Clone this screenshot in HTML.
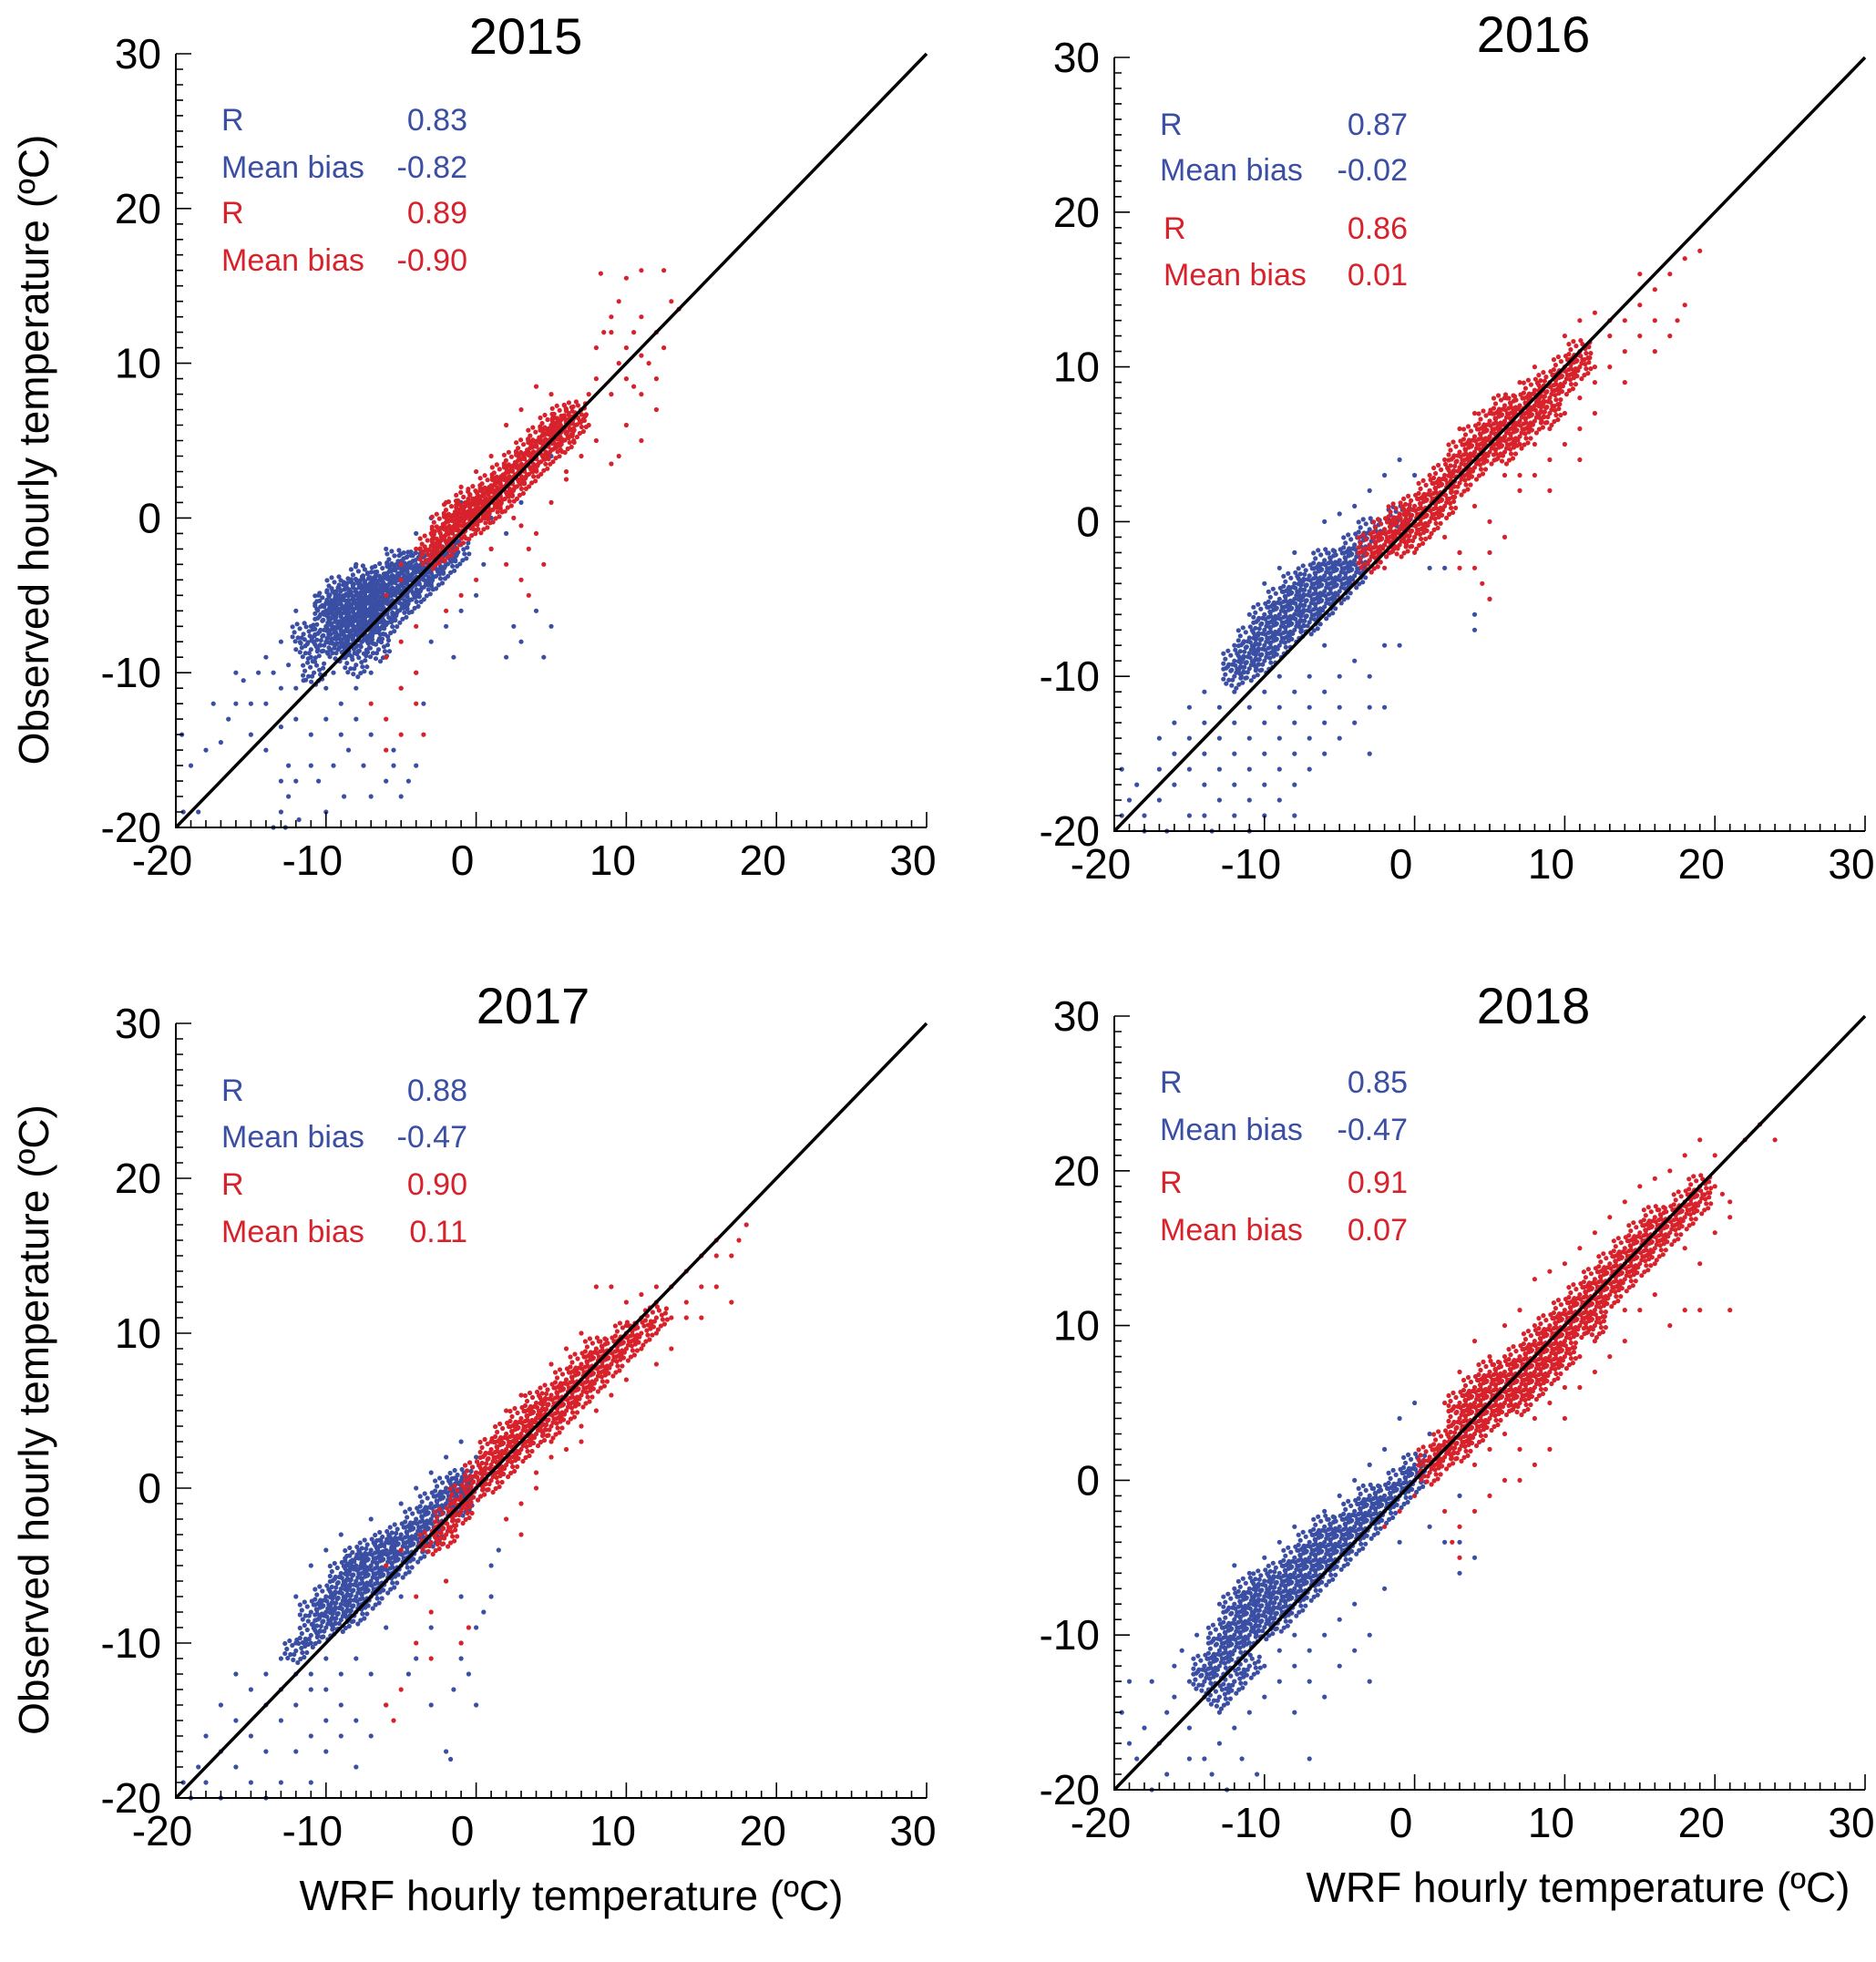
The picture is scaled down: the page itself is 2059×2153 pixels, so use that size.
<!DOCTYPE html>
<html><head><meta charset="utf-8"><style>
html,body{margin:0;padding:0;background:#fff}
svg{display:block;font-family:"Liberation Sans",Arial,sans-serif}
</style></head><body>
<svg id="fig" width="2059" height="2153" viewBox="0 0 2059 2153" xmlns="http://www.w3.org/2000/svg"></svg>
<script>
// ---------- data (degrees C): flat [x,y,...] arrays ----------
const titles = ["2015","2016","2017","2018"];
const statLabels = ["R","Mean bias","R","Mean bias"];
const stats2015 = ["0.83","-0.82","0.89","-0.90"];
const stats2016 = ["0.87","-0.02","0.86","0.01"];
const stats2017 = ["0.88","-0.47","0.90","0.11"];
const stats2018 = ["0.85","-0.47","0.91","0.07"];
const tickValues = [-20,-10,0,10,20,30];

const blueDense2015=[-10,-8,-10,-7,-10,-6,-10,-5.5,-9.2,-8.5,-9.2,-7.6,-9.2,-6.8,-9.2,-6,-9.2,-5.2,-9.2,-4.5,-8.4,-8.2,-8.4,-7.4,-8.4,-6.5,-8.4,-5.7,-8.4,-4.8,-7.6,-8,-7.6,-7.1,-7.6,-6.2,-7.6,-5.4,-7.6,-4.6,-7.6,-3.8,-6.8,-7.4,-6.8,-6.6,-6.8,-5.8,-6.8,-5,-6.8,-4.2,-6,-6.9,-6,-6,-6,-5.2,-6,-4.4,-6,-3.6,-5.2,-6,-5.2,-5.2,-5.2,-4.4,-5.2,-3.6,-5.2,-2.8,-4.4,-5.3,-4.4,-4.5,-4.4,-3.7,-4.4,-2.9,-3.6,-4.5,-3.6,-3.7,-3.6,-2.9,-2.8,-3.8,-2.8,-3,-2,-3,-2,-2.2,-1.2,-2.2,-11,-8.5,-11.5,-7.5,-10.8,-10,-8,-9.5,-6.5,-8.5];
const blueScatter2015=[-14,-9,-13.5,-10,-13,-8,-12.5,-9.5,-12,-8.5,-11.5,-10.5,-11,-7,-11,-9,-12,-11,-13,-11,-14.5,-10,-15,-12,-16,-12,-17.5,-12,-18,-15,-19,-16,-19.6,-14,-17,-14.5,-16.5,-13,-15,-14,-14,-15,-13,-17,-13,-19,-12.5,-18,-12,-17,-11.8,-19.5,-12.5,-16,-11,-16,-10.5,-17,-11,-14,-10,-13,-9,-14,-9,-12,-8.5,-15,-8,-13,-7.5,-16,-7,-14,-7,-18,-6,-17,-5.5,-16,-5,-18,-5.5,-15,-4.5,-17,-4,-16,-3.5,-12,-4,-10,-5,-11,-6,-9,-7,-10,-8,-11,-9.5,-10,-10,-11,-3,-8,-2,-7,-1,-6,0,-5,2,-9,2.5,-7,3,-8,4,-6,5,-7,4.5,-9,-1.5,-9,-12,-6,-10.5,-5,-8,-3,-6,-2,-4,-1,-3,0,-1,1,1,-2,0.5,-3,2,-1,-15.5,-10.5,-14,-12,-16,-10,-13,-13.5,-12,-13,-9.5,-16,-8.8,-18,-10,-19,-13.5,-20,-12.7,-20,-18.5,-19,-19.5,-19,1,0,3,1,5,4];
const redDense2015=[-3,-2.5,-3,-1.8,-2.2,-2,-2.2,-1.2,-2.2,-0.4,-1.4,-1.2,-1.4,-0.4,-1.4,0.4,-0.6,-0.6,-0.6,0.2,-0.6,1,0.2,-0.2,0.2,0.6,0.2,1.4,1,0.5,1,1.3,1,2.1,1.8,1.2,1.8,2,1.8,2.8,2.6,2,2.6,2.8,2.6,3.6,3.4,2.8,3.4,3.6,3.4,4.4,4.2,3.6,4.2,4.4,4.2,5.2,5,4.4,5,5.2,5,6,5.8,5,5.8,5.8,5.8,6.6,6.6,6,6.6,6.8];
const redScatter2015=[7,7,7.5,8,8,9,8,11,8.5,12,9,13,9.5,14,10,15.5,8.3,15.8,9,12,10,11,10.5,12,11,13,12,12,13,14,12.5,11,11.5,10,10,9,9,8,10.5,8.5,11,8,12,9,12,7,11,5,9.5,4,9,3.5,8,5,7,4,6,3,5,1,4,-1,3.5,-2,3,-4,3.5,-5,2,-3,1,-2,4.5,-3,6,7,5,8,4,8.5,3,7,2,6,1,4,0,3,-1,2,-2,1,-3,-1,-4,-2,-5,-3,-5,-4,-6,-5,-4,-7,-5,-8,-6,-9,-4,-10,-5,-11,-4,-12,-5,-14,-6,-15,-3.5,-14,-6,-13,-7,-12,-2,-6,-1,-5,0,-4,13.5,13.5,12.5,16,11,16,6.5,5,7.5,6,9.5,10,10,6,11,10.5,3,-0.5,2.5,0,6,2.5];

const blueDense2016=[-12,-10,-12,-9,-11,-9.5,-11,-8.5,-11,-7.5,-10,-9,-10,-8,-10,-7,-10,-6,-9,-8,-9,-7,-9,-6,-9,-5,-8,-7,-8,-6,-8,-5,-8,-4,-7,-6.5,-7,-5.5,-7,-4.5,-7,-3.5,-6,-5.5,-6,-4.5,-6,-3.5,-6,-2.5,-5,-4.5,-5,-3.5,-5,-2.5,-4,-3.5,-4,-2.5,-4,-1.5,-3,-2.5,-3,-1.5,-3,-0.5,-2,-1.5,-2,-0.5,-1,-0.5,-1,0.3];
const blueScatter2016=[-19,-18,-19.5,-16,-18.5,-17,-18,-19,-17,-18,-17,-16,-16,-15,-16,-17,-15,-14,-15,-16,-15,-19,-14,-13,-14,-15,-14,-17,-14,-19,-13.5,-20,-13,-12,-13,-14,-13,-16,-13,-18,-12,-11,-12,-13,-12,-15,-12,-17,-12,-19,-11,-12,-11,-14,-11,-16,-11,-18,-11,-20,-10,-11,-10,-13,-10,-15,-10,-17,-10,-19,-9,-10,-9,-12,-9,-14,-9,-16,-9,-18,-8,-11,-8,-13,-8,-15,-8,-17,-8,-19,-7,-10,-7,-12,-7,-14,-7,-16,-6,-11,-6,-13,-6,-15,-5,-12,-5,-14,-4,-13,-3,-12,-3,-15,-2,-8,-1,-8,-4,-9,-5,-10,-6,-8,-3,-10,-2,-12,-14,-11,-15,-12,-16,-13,-17,-14,-12,-8,-11,-6,-10,-4,-9,-3,-8,-2,-6,0,-5,0.5,-4,1,-3,2,-2,3,-1,4,0,3,1,2,4,-6,4,-7,3,-2,2,-3,5,-5,1,-3,-18,-20,-16.5,-20,-19.5,-19];
const redDense2016=[-3,-2.5,-3,-1.5,-2,-1.5,-2,-0.5,-1,-0.5,-1,0.5,-1,-1.5,0,0,0,1,0,-1,1,1,1,2,1,0,2,2,2,3,2,1,3,2.5,3,3.5,3,4.5,4,3.5,4,4.5,4,5.5,5,4.5,5,5.5,5,6.5,6,5.5,6,6.5,6,7.5,6,4.5,7,6.5,7,7.5,7,5.5,8,7.5,8,8.5,8,6.5,9,8,9,9,9,7,10,9,10,10,11,10,11,11];
const redScatter2016=[4,1,5,0,5,-2,6,-1,7,2,7,3,8,3,8,5,9,4,9,6,10,5,10,7,11,6,11,8,12,9,12,7,13,10,13,12,14,11,14,13,15,14,15,12,16,15,17,16,17,12,16,11,18,14,18,17,19,17.5,15,16,13,13,12,13.5,11,13,10,12,8,10,7,9,6,8,5,7,4,7,3,6,2,4,1,3,2,-1,3,-2,4,-3,4.5,-4,5,-5,3,-3,0,-2,1,-1,-4,-4,-5,-5,-2,-3,6,3,9,2,7,5,11,4,12,10,14,9,16,13,17.5,13];

const blueDense2017=[-10,-9,-10,-8,-10,-7,-9,-8.5,-9,-7.5,-9,-6.5,-9,-5.5,-8,-8,-8,-7,-8,-6,-8,-5,-8,-4.5,-7,-7,-7,-6,-7,-5,-7,-4,-6,-6,-6,-5,-6,-4,-6,-3.5,-5,-5,-5,-4,-5,-3,-4,-4,-4,-3,-4,-2,-3,-3,-3,-2,-3,-1,-2,-2,-2,-1,-2,0,-1,-1,-1,0,-1,0.5,0,0,0,1,-11,-9.5,-11,-8,-12,-10.5];
const blueScatter2017=[-19.5,-19,-19,-20,-18.5,-18,-18,-19,-17,-17,-17,-14,-16,-12,-16,-15,-16,-18,-15,-13,-15,-16,-15,-19,-14,-12,-14,-14,-14,-17,-13,-11,-13,-13,-13,-15,-13,-19,-12,-10,-12,-12,-12,-14,-12,-17,-11,-10,-11,-12,-11,-13,-11,-16,-11,-19,-10,-11,-10,-13,-10,-15,-10,-17,-9,-12,-9,-14,-9,-16,-8,-11,-8,-15,-8,-18,-7,-12,-7,-16,-6,-14,-12,-7,-11,-5,-10,-4,-9,-3,-7,-2,-5,-1,-4,0,-3,1,-2,2,-1,3,0,2,1,1,-2,-6,-1,-7,-1,-10,-1,-11,-1.5,-13,-2,-17,-1.7,-17.5,0,-14,1,-5,1.5,-4,1,-7,0,-9,0.5,-8,-0.5,-12,-3,-9,-4,-11,-4.5,-12,-3,-14,-18,-16,-17,-20,-14,-20,-5,-7,-6,-9];
const redDense2017=[0,0,0,1,1,0.5,1,1.5,1,2.5,2,1.5,2,2.5,2,3.5,3,2.5,3,3.5,3,4.5,4,3.5,4,4.5,4,5.5,5,4,5,5,5,6,6,5,6,6,6,7,7,6,7,7,7,8,8,7,8,8,8,9,9,8,9,9,10,9,10,10,-1,-0.5,-1,-1.5,-2,-2,-2,-3,-3,-3.5,11,10,12,11];
const redScatter2017=[11,9,11,11,12,10,12,12,13,11,13,13,14,12,14,14,15,13,15,15,16,15,16,16,17,15,17,12,18,17,17.5,16,16,13,14,11,13,9,12,8,10,7,9,6,8,5,7,3,6,2.5,5,2,4,1,3,-1,2,-2,3,-3,4,0,5,3,7,4,6,9,5,8,7,10,8,13,9,13,10,12,12,13,3,6,2,5,1,3,-2,-6,-3,-8,-4,-10,-3,-11,-5,-13,-6,-14,-5.5,-15,-1,-10,-0.5,-9,-4,-7,-5,-4,-6,-5,10,10.5,11,12.5,15,11];

const blueDense2018=[-14,-13,-14,-12,-13,-12,-13,-11,-13,-10,-12,-11,-12,-10,-12,-9,-12,-8,-11,-10,-11,-9,-11,-8,-11,-7,-10,-9.5,-10,-8.5,-10,-7.5,-10,-6.5,-9,-9,-9,-8,-9,-7,-9,-6,-8,-8,-8,-7,-8,-6,-8,-5,-7,-7,-7,-6,-7,-5,-7,-4,-6,-6,-6,-5,-6,-4,-6,-3,-5,-5,-5,-4,-5,-3,-4,-4,-4,-3,-4,-2,-3,-3,-3,-2,-3,-1,-2,-2,-2,-1,-1,-1,-1,0,0,0,0,1,-13,-14,-12,-13,-11,-12];
const blueScatter2018=[-19.5,-15,-19,-17,-18.5,-18,-18,-16,-17.5,-13,-17,-17,-16.5,-15,-16,-12,-16,-14,-15.5,-11,-15,-13,-15,-16,-14.5,-10,-14,-14,-14,-18,-13.5,-19,-13,-9,-13,-15,-13,-17,-12.5,-20,-12,-7,-12,-13,-12,-16,-11.5,-18,-11,-6,-11,-12,-11,-15,-10.5,-19,-10,-5,-10,-12,-10,-14,-9,-4,-9,-11,-9,-13,-8,-3,-8,-10,-8,-12,-7,-11,-7,-13,-6,-10,-6,-14,-5,-9,-5,-12,-4,-8,-4,-11,-3,-10,-3,-13,-8,-15,-7,-18,-6,-2,-5,-1,-4,0,-3,1,-2,2,-1,4,0,5,1,3,2,2,3,-1,3,-4,4,-5,3,-6,1,-3,2,-4,-1,-4,-2,-7,-15,-18,-16.5,-19,-17.5,-20,-19,-13,-11,-10.5,-14,-12,-13,-8,-12,-5.5];
const redDense2018=[1,0.5,1,1.5,2,1.5,2,2.5,3,2,3,3,3,4,3,5,4,3,4,4,4,5,4,6,5,4,5,5,5,6,5,7,6,5,6,6,6,7,7,6,7,7,7,8,7,5,8,7,8,8,8,9,8,6,9,8,9,9,9,10,9,7,10,9,10,10,10,11,10,8,11,10,11,11,11,12,12,11,12,12,12,13,12,10,13,12,13,13,13,14,14,13,14,14,14,15,15,14,15,15,15,16,16,15,16,16,16,17,17,16,17,17,18,17,18,18,19,18,19,19];
const redScatter2018=[3,7,4,9,5,8,6,10,7,11,8,13,9,13.5,10,14,11,15,12,16,13,17,14,18,15,19,16,19.5,17,20,18,21,19,22,20,21,20,19,21,18,21,17,20,16,19,14,19,11,21,11,18,11,17,10,16,12,15,11,14,9,13,8,12,7,11,6,10,4,9,2,8,1,7,0,6,0,5,-1,4,-2,3,-3,2,-2,0,-1,-1,-2,-2,-3,6,3,7,2,8,4,9,5,10,6,11,8,5,2,4,1,22,22,23,23,24,22,20.5,18.5,18,15,16,14,14,11,12,9,8,10,6,8,2,5,3,-5,2.5,-4];

// ---------- rendering ----------
const NS="http://www.w3.org/2000/svg";
const svg=document.getElementById('fig');
const BLUE="#3a4ea3", RED="#d8222b";
// fixed speckle texture drawn around each dense-region point (styling, px)
const SPECKLE=[[0,0],[7,2],[-6,4],[3,-8],[-4,-6],[10,-5],[-10,-2],[5,9],[-3,10],[9,7],[-9,8],[1,-12],[12,2],[-12,-8],[6,-3],[-2,4],[-7,-11],[11,-10],[-12,3],[2,13]];
function mk(tag,attrs,parent){const e=document.createElementNS(NS,tag);for(const k in attrs)e.setAttribute(k,attrs[k]);(parent||svg).appendChild(e);return e;}

const panels=[
 {L:193,R:1017,T:59,B:908,title:titles[0],tx:577,ty:59,stats:stats2015,sx:243,vx:513,by:[143,195,245,297],rx:243,bd:blueDense2015,bs:blueScatter2015,rd:redDense2015,rs:redScatter2015,ylab:true,xlab:false},
 {L:1223,R:2047,T:63,B:912,title:titles[1],tx:1683,ty:57,stats:stats2016,sx:1273,vx:1545,by:[148,198,262,313],rx:1277,bd:blueDense2016,bs:blueScatter2016,rd:redDense2016,rs:redScatter2016,ylab:false,xlab:false},
 {L:193,R:1017,T:1123,B:1973,title:titles[2],tx:585,ty:1123,stats:stats2017,sx:243,vx:513,by:[1208,1259,1311,1363],rx:243,bd:blueDense2017,bs:blueScatter2017,rd:redDense2017,rs:redScatter2017,ylab:true,xlab:true,xlx:627},
 {L:1223,R:2047,T:1115,B:1964,title:titles[3],tx:1683,ty:1123,stats:stats2018,sx:1273,vx:1545,by:[1199,1251,1309,1361],rx:1273,bd:blueDense2018,bs:blueScatter2018,rd:redDense2018,rs:redScatter2018,ylab:false,xlab:true,xlx:1732}
];

panels.forEach((p,pi)=>{
  const g=mk('g',{});
  
  
  const xs=v=>p.L+(v+20)/50*(p.R-p.L);
  const ys=v=>p.B-(v+20)/50*(p.B-p.T);
  function draw(arr,color,dense,name){
    const pg=mk('g',{fill:color},g);
    
    
    for(let i=0;i<arr.length;i+=2){
      const cx=xs(arr[i]), cy=ys(arr[i+1]);
      if(dense){
        SPECKLE.forEach(o=>{
          const X=cx+o[0], Y=cy+o[1];
          if(X>=p.L && Y<=p.B) mk('circle',{cx:X.toFixed(1),cy:Y.toFixed(1),r:2.6},pg);
        });
      } else {
        mk('circle',{cx:cx.toFixed(1),cy:cy.toFixed(1),r:2.6},pg);
      }
    }
  }
  draw(p.bs,BLUE,false,'blue-points-scatter');
  draw(p.bd,BLUE,true,'blue-points-dense');
  draw(p.rs,RED,false,'red-points-scatter');
  draw(p.rd,RED,true,'red-points-dense');
  const ln=mk('line',{x1:xs(-20),y1:ys(-20),x2:xs(30),y2:ys(30),stroke:'#000','stroke-width':3.5},g);
  
  
  const ax=mk('path',{d:`M${p.L},${p.T}V${p.B}H${p.R}`,fill:'none',stroke:'#000','stroke-width':2},g);
  
  
  let d='';
  for(let v=-20;v<=30;v++){
    const major=v%10===0, len=major?17:8;
    d+=`M${p.L},${ys(v).toFixed(1)}h${len}`;
    d+=`M${xs(v).toFixed(1)},${p.B}v${-len}`;
  }
  const tk=mk('path',{d:d,stroke:'#000','stroke-width':1.6,fill:'none'},g);
  
  
  tickValues.forEach(v=>{
    const ty=mk('text',{x:p.L-16,y:ys(v)+16,'font-size':46,'text-anchor':'end'},g);
    ty.textContent=v;
    
    
    const tx=mk('text',{x:xs(v)-15,y:p.B+52,'font-size':46,'text-anchor':'middle'},g);
    tx.textContent=v;
    
    
  });
  const tt=mk('text',{x:p.tx,y:p.ty,'font-size':56,'text-anchor':'middle'},g);
  tt.textContent=p.title;
  
  
  statLabels.forEach((lab,i)=>{
    const col=i<2?BLUE:RED;
    const lx=i<2?p.sx:p.rx;
    const a=mk('text',{x:lx,y:p.by[i],'font-size':34,fill:col},g);
    a.textContent=lab;
    
    
    const b=mk('text',{x:p.vx,y:p.by[i],'font-size':34,fill:col,'text-anchor':'end'},g);
    b.textContent=p.stats[i];
    
    
  });
  if(p.ylab){
    const cy=(p.T+p.B)/2+10;
    const yl=mk('text',{x:0,y:0,'font-size':46,'text-anchor':'middle',transform:`translate(53,${cy}) rotate(-90)`},g);
    yl.textContent='Observed hourly temperature (ºC)';
    
    
  }
  if(p.xlab){
    const xl=mk('text',{x:p.xlx,y:p.B+123,'font-size':46,'text-anchor':'middle'},g);
    xl.textContent='WRF hourly temperature (ºC)';
    
    
  }
});
</script>
</body></html>
